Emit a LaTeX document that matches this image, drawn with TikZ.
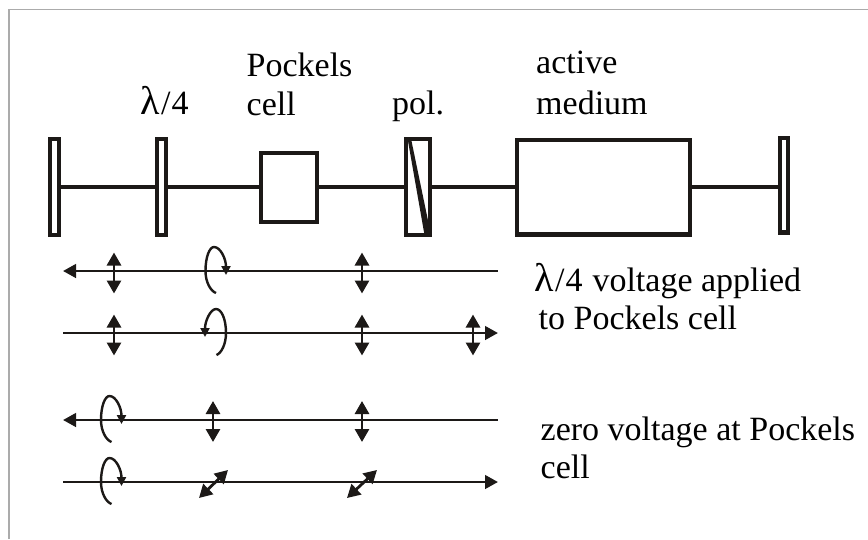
\documentclass[tikz,border=0pt]{standalone}
\usepackage{fontspec}
\setmainfont{Liberation Serif}
\usetikzlibrary{arrows.meta,positioning}
\definecolor{ink}{HTML}{1C1917}
\definecolor{frameline}{HTML}{ABABAB}
\newcommand{\lamfour}{{\fontsize{40}{40}\selectfont λ}\kern1.5pt/\kern1pt4\kern1.5pt}
\tikzset{
  element/.style={draw=ink,line width=4.4pt,fill=white,inner sep=0pt},
  axisline/.style={draw=ink,line width=4pt},
  beam/.style={draw=ink,line width=2.8pt},
  lintip/.style={draw=ink,line width=2.8pt,{Triangle[length=13pt,width=14pt]}-{Triangle[length=13pt,width=14pt]}},
  spintip/.style={draw=ink,line width=2.4pt,-{Triangle[length=9pt,width=9pt]}},
  caption/.style={font=\fontsize{34}{38}\selectfont,text=black,inner sep=0pt,anchor=base west,align=left},
}
\begin{document}
\begin{tikzpicture}[x=1pt,y=-1pt]
  \useasboundingbox (0,0) rectangle (868,539);
  % Frame
  \coordinate (F1) at (9,539);
  \coordinate (F2) at (9,9.5);
  \coordinate (F3) at (868,9.5);
  \draw[frameline,line width=1.2pt] (F1)--(F2)--(F3);
  % Resonator elements
  \node[element,minimum width=8.6pt,minimum height=95.6pt] (M1) at (54.5,187) {};
  \node[element,minimum width=8.6pt,minimum height=95.6pt] (QW) at (161.5,187) {};
  \node[element,minimum width=55.6pt,minimum height=68.6pt] (PC) at (289,187.5) {};
  \node[element,minimum width=23.6pt,minimum height=95.6pt] (PL) at (418,187) {};
  \node[element,minimum width=172.6pt,minimum height=94.6pt] (AM) at (603.5,187) {};
  \node[element,minimum width=8.1pt,minimum height=94.6pt] (M2) at (784,185) {};
  \draw[axisline] (M1.east|-0,186.5)--(QW.west|-0,186.5);
  \draw[axisline] (QW.east|-0,186.5)--(PC.west|-0,186.5);
  \draw[axisline] (PC.east|-0,186.5)--(PL.west|-0,186.5);
  \draw[axisline] (PL.east|-0,186.5)--(AM.west|-0,186.5);
  \draw[axisline] (AM.east|-0,186.5)--(M2.west|-0,186.5);
  % Polarizer diagonal
  \fill[ink] (408,141) -- (411.5,141) -- (431,235) -- (424.5,235) -- cycle;
  % Labels on top
  \node[caption] (LQW) at (140,114) {\lamfour};
  \node[caption] (LPC) at (246.5,76) {Pockels};
  \node[caption] (LPC2) at (246.5,115) {cell};
  \node[caption] (LPL) at (392,114.5) {pol.};
  \node[caption] (LAM) at (536,73.5) {active};
  \node[caption] (LAM2) at (536,114) {medium};
  % Beams
  \coordinate (B1a) at (63,271);   \coordinate (B1b) at (498,271);
  \coordinate (B2a) at (63,333);   \coordinate (B2b) at (498,333);
  \coordinate (B3a) at (63,420);   \coordinate (B3b) at (498,420);
  \coordinate (B4a) at (63,482);   \coordinate (B4b) at (498,482);
  \draw[beam,{Triangle[length=13pt,width=13.5pt]}-] (B1a)--(B1b);
  \draw[beam,-{Triangle[length=13pt,width=13.5pt]}] (B2a)--(B2b);
  \draw[beam,{Triangle[length=13pt,width=13.5pt]}-] (B3a)--(B3b);
  \draw[beam,-{Triangle[length=13pt,width=13.5pt]}] (B4a)--(B4b);
  % Linear polarization
  \foreach \x/\y in {114/273,362/273,114/335,362/335,473/335,213/421.5,362/421.5}
    \draw[lintip] (\x,\y-20.5)--(\x,\y+20.5);
  \draw[lintip] (199,498)--(228,470);
  \draw[lintip] (347,498)--(377,470);
  % Circular polarization
  \foreach \x/\y in {215.5/271,111/420,111/482}
    \draw[spintip,shift={(\x,\y)}] (0.5,22) .. controls (-5,20) and (-10,11) .. (-10,0)
      .. controls (-10,-14) and (-6,-24) .. (-1.5,-24) .. controls (5,-24) and (10.5,-12) .. (10.5,4);
  \draw[spintip,shift={(215.5,333)},xscale=-1] (-1,22) .. controls (-6,20) and (-10.5,11) .. (-10.5,0)
      .. controls (-10.5,-14) and (-6,-24) .. (-0.5,-24) .. controls (5,-24) and (10.5,-12) .. (10.5,4);
  % Captions
  \node[caption] (T1) at (534,291.5) {\lamfour{} voltage applied};
  \node[caption] (T2) at (538.5,329) {to Pockels cell};
  \node[caption] (T3) at (540.5,440.5) {zero voltage at Pockels};
  \node[caption] (T4) at (540.5,478) {cell};
\end{tikzpicture}
\end{document}
